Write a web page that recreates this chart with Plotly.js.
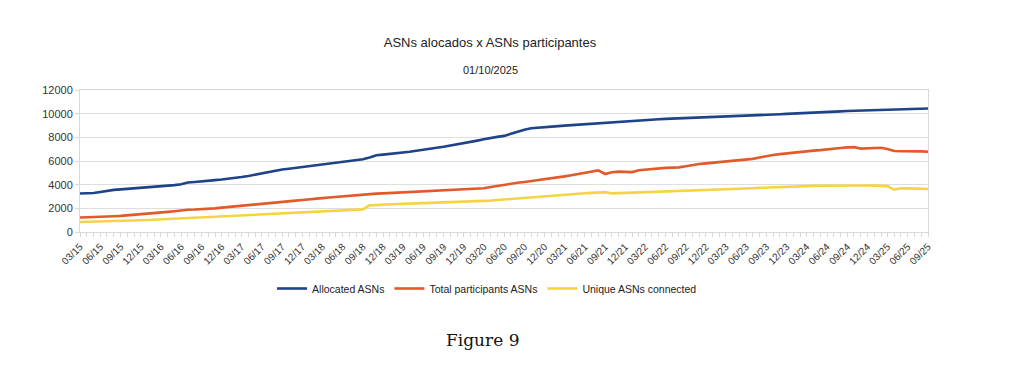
<!DOCTYPE html>
<html>
<head>
<meta charset="utf-8">
<script src="https://cdn.plot.ly/plotly-3.0.1.min.js"></script>
<style>html,body{margin:0;padding:0;background:#fff;}#chart{width:1024px;height:372px;}</style>
</head>
<body>
<div id="chart"></div>
<script>
// Monthly categories: 03/2015 .. 09/2025 (127 months)
const startYear = 2015, startMonth = 3, monthCount = 127;
const months = [];
for (let k = 0; k < monthCount; k++) {
  const m = startMonth - 1 + k;
  const y = startYear + Math.floor(m / 12);
  const mm = (m % 12) + 1;
  months.push(y + '-' + String(mm).padStart(2, '0') + '-01');
}

const allocatedASNs = [
  3250,3260,3300,3380,3500,3560,3600,3640,3690,3740,3790,3830,
  3870,3910,3960,4040,4180,4230,4260,4320,4380,4430,4490,4570,
  4650,4740,4850,4980,5100,5220,5280,5350,5430,5500,5560,5620,
  5720,5800,5880,5950,6000,6070,6150,6300,6480,6540,6590,6650,
  6710,6780,6860,6930,7020,7120,7200,7290,7400,7490,7600,7720,
  7830,7950,8040,8120,8300,8480,8650,8770,8830,8870,8910,8950,
  8990,9030,9080,9160,9190,9220,9250,9290,9330,9360,9390,9420,
  9450,9500,9530,9560,9580,9600,9620,9640,9660,9680,9700,9730,
  9750,9780,9800,9830,9860,9880,9900,9920,9950,9980,10000,10030,
  10050,10080,10100,10130,10160,10190,10220,10240,10260,10280,10300,10310,
  10330,10350,10370,10380,10400,10420,10440
];

const totalParticipantsASNs = [
  1230,1240,1250,1280,1310,1330,1360,1400,1440,1490,1560,1620,
  1660,1700,1760,1830,1880,1900,1920,1950,2000,2060,2120,2180,
  2240,2290,2340,2400,2450,2500,2550,2600,2650,2700,2740,2790,
  2860,2920,2970,3020,3070,3120,3170,3210,3240,3260,3290,3310,
  3330,3350,3380,3410,3440,3470,3500,3530,3560,3580,3600,3640,
  3700,3800,3900,4000,4080,4160,4230,4300,4380,4440,4500,4600,
  4700,4800,4900,5050,5120,5200,4900,5050,5100,5080,5060,5220,
  5280,5330,5380,5420,5440,5460,5560,5660,5740,5800,5850,5900,
  5960,6020,6070,6120,6180,6300,6420,6500,6580,6650,6720,6780,
  6830,6880,6920,6960,7050,7100,7150,7170,7050,7080,7150,7120,
  7020,6850,6820,6830,6860,6810,6780
];

const uniqueASNsConnected = [
  840,850,860,870,890,910,930,950,970,990,1010,1040,
  1070,1100,1120,1140,1160,1180,1200,1230,1260,1290,1320,1350,
  1380,1410,1440,1470,1500,1530,1560,1590,1620,1650,1680,1700,
  1730,1760,1790,1820,1850,1880,1910,2250,2290,2320,2340,2360,
  2380,2400,2420,2440,2460,2480,2490,2500,2510,2520,2540,2560,
  2600,2650,2700,2750,2800,2850,2900,2950,2990,3030,3070,3110,
  3150,3200,3240,3280,3310,3350,3370,3260,3280,3300,3320,3340,
  3360,3390,3420,3440,3420,3430,3450,3480,3500,3530,3560,3590,
  3610,3640,3660,3680,3700,3730,3760,3780,3800,3830,3850,3870,
  3880,3900,3910,3920,3930,3940,3960,3970,3950,3930,3920,3900,
  3880,3580,3700,3690,3680,3660,3640
];

const seriesNames = ['Allocated ASNs', 'Total participants ASNs', 'Unique ASNs connected'];
const seriesColors = ['#1f4388', '#e2592a', '#f5d442'];
const yTickVals = [0, 2000, 4000, 6000, 8000, 10000, 12000];

const font = 'Liberation Sans, Arial, sans-serif';
const traces = [allocatedASNs, totalParticipantsASNs, uniqueASNsConnected].map((vals, i) => ({
  type: 'scatter', mode: 'lines', x: months, y: vals, name: seriesNames[i],
  line: {color: seriesColors[i], width: 2.6}, hoverinfo: 'x+y+name'
}));

const layout = {
  width: 1024, height: 372,
  margin: {l: 80, r: 96, t: 90, b: 140},
  paper_bgcolor: '#fff', plot_bgcolor: '#fff',
  font: {family: font, color: '#222', size: 11},
  title: {text: 'ASNs alocados x ASNs participantes', xref: 'container', yref: 'container',
          x: 0.4785, xanchor: 'center', y: 1 - 42/372, yanchor: 'middle',
          font: {family: font, size: 13, color: '#222'}},
  xaxis: {
    type: 'date', range: [months[0], months[months.length - 1]],
    tick0: months[0], dtick: 'M3', tickformat: '%m/%y', tickangle: -45,
    tickfont: {family: font, size: 10, color: '#333'},
    showgrid: false, showline: true, linecolor: '#d9d9d9', linewidth: 1, mirror: true,
    ticks: 'outside', ticklen: 4, tickcolor: '#d9d9d9',
    minor: {dtick: 'M1', tick0: months[0], ticks: 'outside', ticklen: 4, tickcolor: '#d9d9d9', showgrid: false},
    zeroline: false, fixedrange: true
  },
  yaxis: {
    range: [0, 12000], tickvals: yTickVals, ticktext: yTickVals.map(String),
    tickfont: {family: font, size: 11, color: '#333'},
    showgrid: true, gridcolor: '#dedede', gridwidth: 1,
    showline: true, linecolor: '#d9d9d9', mirror: true,
    ticks: 'outside', ticklen: 4, tickcolor: '#d9d9d9',
    zeroline: false, fixedrange: true
  },
  showlegend: true,
  legend: {orientation: 'h', x: 0.48, xanchor: 'center', y: (231.5 - 288) / 142, yanchor: 'middle',
           font: {family: font, size: 10.5, color: '#222'}, itemwidth: 30, tracegroupgap: 0,
           bgcolor: 'rgba(0,0,0,0)'},
  annotations: [
    {text: '01/10/2025', xref: 'paper', yref: 'paper', x: (490 - 80) / 848, y: (232 - 70) / 142,
     xanchor: 'center', yanchor: 'middle', showarrow: false, font: {family: font, size: 11, color: '#222'}},
    {text: 'Figure 9', xref: 'paper', yref: 'paper', x: (482 - 80) / 848, y: (232 - 340) / 142,
     xanchor: 'center', yanchor: 'middle', showarrow: false,
     font: {family: 'DejaVu Serif, Liberation Serif, serif', size: 17, color: '#111'}}
  ]
};

Plotly.newPlot('chart', traces, layout, {displayModeBar: false, staticPlot: true});
</script>
</body>
</html>
